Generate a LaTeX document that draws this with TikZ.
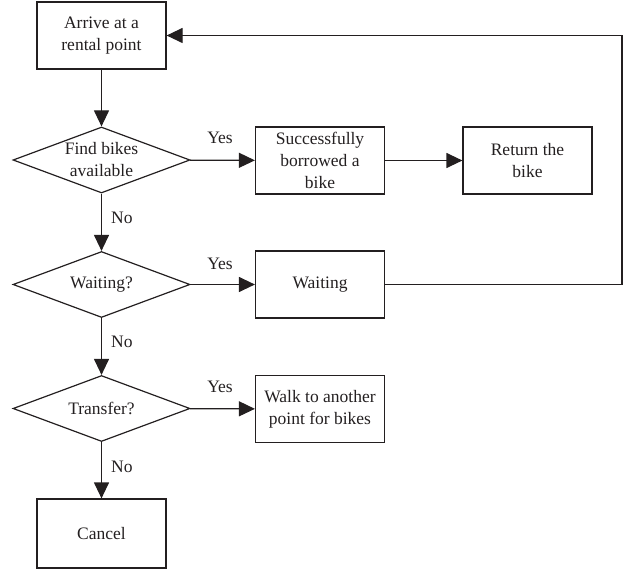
\documentclass[tikz,border=0pt]{standalone}
\usepackage{fontspec}
\setmainfont{Liberation Serif}
\usetikzlibrary{shapes.geometric,arrows.meta}
\definecolor{ink}{HTML}{231F20}
\tikzset{txt/.style={font=\fontsize{17.5}{22}\selectfont, text=ink}}
\begin{document}
\begin{tikzpicture}[x=1pt,y=-1pt,
  every node/.style={txt},
  box/.style={draw=ink, line width=1.2pt, rectangle, minimum width=129pt, minimum height=67pt, inner sep=1pt, align=center},
  dia/.style={draw=ink, line width=1.2pt, diamond, minimum width=177pt, minimum height=66pt, inner sep=0pt, aspect=2.68},
  arr/.style={draw=ink, line width=1.2pt, -{Triangle[length=16pt,width=15pt]}},
  lab/.style={inner sep=0pt}
]
\useasboundingbox (0,0) rectangle (631,569);
\node[box] (arrive) at (101.5,35.5) {Arrive at a\\rental point};
\node[dia, label={[align=center,txt]center:Find bikes\\available}] (d1) at (101.5,160) {};
\node[box] (succ) at (320,160.5) {Successfully\\borrowed a\\bike};
\node[box] (ret) at (527.5,160.5) {Return the\\bike};
\node[dia, label={[txt]center:Waiting?}] (d2) at (101.5,284.5) {};
\node[box] (wait) at (320,284.5) {Waiting};
\node[dia, label={[txt]center:Transfer?}] (d3) at (101.5,408.5) {};
\node[box] (walk) at (320,409) {Walk to another\\point for bikes};
\node[box, minimum height=69pt] (cancel) at (101.5,533.5) {Cancel};
\coordinate (c1) at (622,284.5);
\coordinate (c2) at (622,35.5);
% connectors
\draw[arr] (arrive) -- (d1);
\draw[arr] (d1) -- (succ);
\draw[arr] (succ) -- (ret);
\draw[arr] (d1) -- (d2);
\draw[arr] (d2) -- (wait);
\draw[arr] (d2) -- (d3);
\draw[arr] (d3) -- (walk);
\draw[arr] (d3) -- (cancel);
\draw[arr] (wait.east) -- (c1) -- (c2) -- (arrive.east);
% labels
\node[lab] (y1) at (220,138) {Yes};
\node[lab] (y2) at (220,264) {Yes};
\node[lab] (y3) at (220,387) {Yes};
\node[lab, anchor=west] (n1) at (111,218) {No};
\node[lab, anchor=west] (n2) at (111,342) {No};
\node[lab, anchor=west] (n3) at (111,467) {No};
\end{tikzpicture}
\end{document}
